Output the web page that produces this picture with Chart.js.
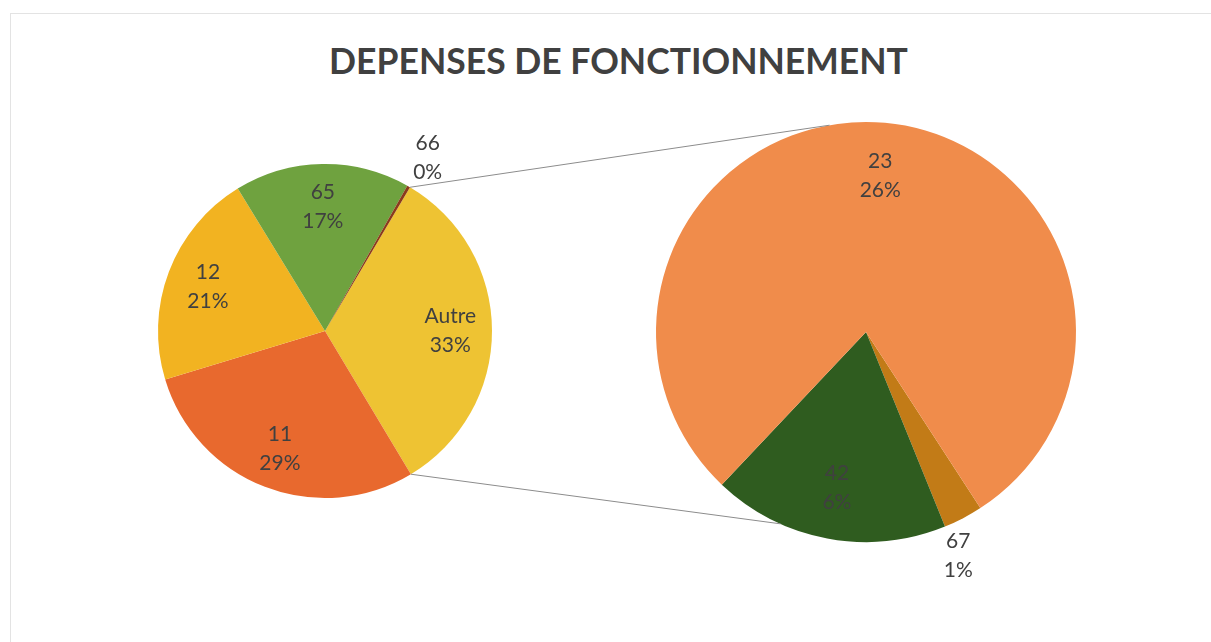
<!DOCTYPE html>
<html>
<head>
<meta charset="utf-8">
<script src="https://cdn.jsdelivr.net/npm/chart.js@4"></script>
<style>
  body{margin:0;background:#fff;}
  .frame{position:absolute;left:0;top:0;width:1211px;height:642px;overflow:hidden;}
  .box{position:absolute;left:10px;top:13px;width:1220px;height:660px;border:1px solid #e3e3e3;}
  .title{position:absolute;left:0;top:39px;width:1237px;text-align:center;
    font-family:Lato,"Open Sans",sans-serif;font-weight:bold;font-size:35.5px;color:#404040;}
  canvas{position:absolute;left:0;top:0;}
</style>
</head>
<body>
<div class="frame">
  <div class="box"></div>
  <div class="title">DEPENSES DE FONCTIONNEMENT</div>
  <canvas id="mainPie" width="1211" height="642"></canvas>
  <canvas id="subPie" width="1211" height="642"></canvas>
</div>
<script>
// main pie (clockwise from the "Autre" slice)
let mainLabels = ["Autre", "11", "12", "65", "66"];
let mainValues = [33, 29, 21, 17, 0.3];
let mainColors = ["#EEC333", "#E8692E", "#F2B321", "#6FA23F", "#8B3B1C"];

// second pie, the detail of "Autre"
let subLabels = ["67", "42", "23"];
let subValues = [1, 6, 26];
let subColors = ["#C27B17", "#2F5C1F", "#F08C4B"];

let labelFont = "21px Lato, 'Open Sans', sans-serif";
let textColor = "#404040";

function pct(values, i){
  let total = mainValues.reduce(function(a, b){ return a + b; }, 0);
  return Math.round(values[i] / total * 100) + "%";
}

// draws the two-line labels: inside at ~0.75r, or outside for thin slices
function labelPlugin(values, labels, outside){
  return {
    id: "sliceLabels",
    afterDraw: function(chart){
      let ctx = chart.ctx;
      let arcs = chart.getDatasetMeta(0).data;
      ctx.save();
      ctx.font = labelFont;
      ctx.fillStyle = textColor;
      ctx.textAlign = "center";
      ctx.textBaseline = "middle";
      arcs.forEach(function(arc, i){
        let mid = (arc.startAngle + arc.endAngle) / 2;
        let r = arc.outerRadius * 0.75;
        let x = arc.x + Math.cos(mid) * r;
        let y = arc.y + Math.sin(mid) * r;
        if(outside[i]){
          x = arc.x + Math.cos(mid) * (arc.outerRadius + 22) + outside[i][0];
          y = arc.y + Math.sin(mid) * (arc.outerRadius + 22) + outside[i][1];
        }
        ctx.fillText(labels[i], x, y - 14);
        ctx.fillText(pct(values, i), x, y + 15);
      });
      ctx.restore();
    }
  };
}

let mainChart = new Chart(document.getElementById("mainPie"), {
  type: "pie",
  data: {
    labels: mainLabels,
    datasets: [{data: mainValues, backgroundColor: mainColors, borderWidth: 0}]
  },
  options: {
    responsive: false,
    animation: false,
    rotation: 30.6,
    layout: {padding: {left: 158, top: 164, right: 719, bottom: 144}},
    plugins: {legend: {display: false}, tooltip: {enabled: false}}
  },
  plugins: [labelPlugin(mainValues, mainLabels, {4: [8, -10]})]
});

// connector lines from the "Autre" slice edges to the second pie
let connectors = {
  id: "connectors",
  afterDraw: function(chart){
    let a = mainChart.getDatasetMeta(0).data[0];
    let b = chart.getDatasetMeta(0).data[0];
    let ends = [[a.startAngle, -100 * Math.PI / 180], [a.endAngle, 114 * Math.PI / 180]];
    let ctx = chart.ctx;
    ctx.save();
    ctx.strokeStyle = "#8c8c8c";
    ctx.lineWidth = 1;
    ends.forEach(function(e){
      ctx.beginPath();
      ctx.moveTo(a.x + Math.cos(e[0]) * a.outerRadius, a.y + Math.sin(e[0]) * a.outerRadius);
      ctx.lineTo(b.x + Math.cos(e[1]) * b.outerRadius, b.y + Math.sin(e[1]) * b.outerRadius);
      ctx.stroke();
    });
    ctx.restore();
  }
};

new Chart(document.getElementById("subPie"), {
  type: "pie",
  data: {
    labels: subLabels,
    datasets: [{data: subValues, backgroundColor: subColors, borderWidth: 0}]
  },
  options: {
    responsive: false,
    animation: false,
    rotation: 147,
    layout: {padding: {left: 656, top: 122, right: 135, bottom: 100}},
    plugins: {legend: {display: false}, tooltip: {enabled: false}}
  },
  plugins: [connectors, labelPlugin(subValues, subLabels, {0: [-15, 18]})]
});
</script>
</body>
</html>
